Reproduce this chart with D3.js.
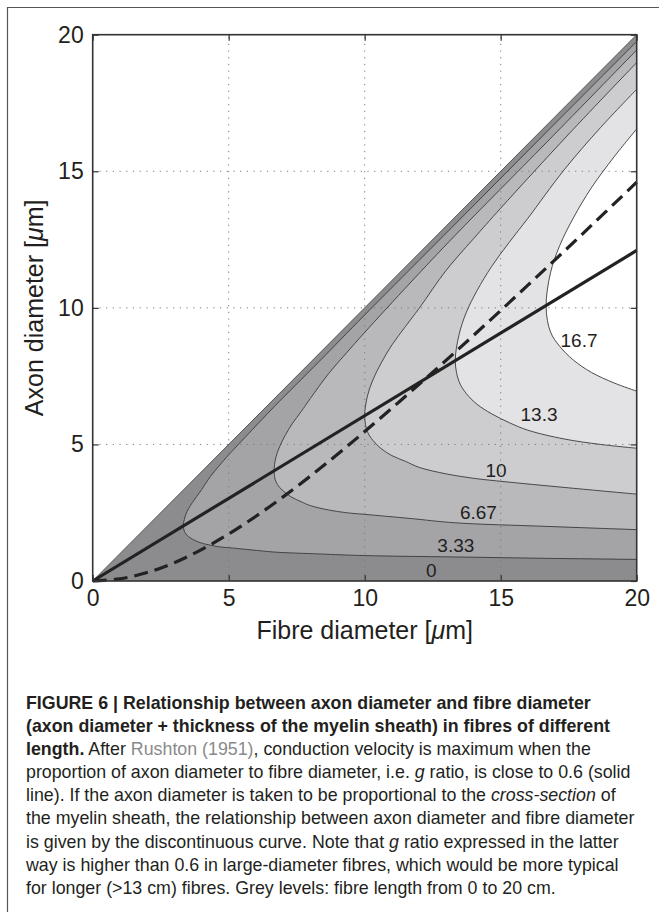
<!DOCTYPE html>
<html>
<head>
<meta charset="utf-8">
<script src="https://cdn.jsdelivr.net/npm/d3@7"></script>
<style>
  body { margin: 0; background: #fff; }
</style>
</head>
<body>
<svg id="fig"></svg>
<script>

const W = 659;
const H = 912;

// axis ticks
const ticks = [0, 5, 10, 15, 20];
const gridTicks = [5, 10, 15];

// region below the diagonal (fibre length 0 band)
const lowerTriangle = [[0, 0], [20, 0], [20, 20]];
const diagonal = [[0, 0], [20, 20]];

// contour lines, [fibre diameter, axon diameter], upper branch -> nose -> lower branch
const contour333 = [[20, 19.75], [16.67, 16.42], [13.33, 13.07], [10, 9.74], [8.33, 8.04], [6.67, 6.38], [5.83, 5.5], [5, 4.62], [4.67, 4.24], [4.33, 3.83], [4, 3.34], [3.83, 3.1], [3.67, 2.88], [3.53, 2.66], [3.43, 2.45], [3.37, 2.26], [3.33, 2.03], [3.37, 1.82], [3.43, 1.72], [3.53, 1.62], [3.67, 1.53], [3.83, 1.45], [4, 1.39], [4.33, 1.31], [4.67, 1.25], [5, 1.22], [5.83, 1.14], [6.67, 1.06], [8.33, 0.99], [10, 0.93], [13.33, 0.88], [16.67, 0.83], [20, 0.79]];
const contour667 = [[20, 19.44], [16.67, 16.04], [13.33, 12.66], [11.67, 10.91], [10, 9.1], [9.33, 8.35], [8.67, 7.59], [8, 6.68], [7.67, 6.21], [7.33, 5.75], [7.07, 5.32], [6.87, 4.91], [6.73, 4.51], [6.67, 4.0], [6.73, 3.65], [6.87, 3.43], [7.07, 3.24], [7.33, 3.06], [7.67, 2.9], [8, 2.76], [8.67, 2.6], [9.33, 2.5], [10, 2.44], [11.67, 2.29], [13.33, 2.13], [16.67, 2.0], [20, 1.88]];
const contour10 = [[20, 18.98], [17.5, 16.36], [15, 13.65], [14, 12.53], [13, 11.38], [12, 9.98], [11.5, 9.32], [11, 8.64], [10.6, 7.97], [10.3, 7.36], [10.1, 6.77], [10, 6.03], [10.1, 5.47], [10.3, 5.15], [10.6, 4.85], [11, 4.59], [11.5, 4.38], [12, 4.16], [13, 3.92], [14, 3.76], [15, 3.65], [17.5, 3.41], [20, 3.18]];
const contour133 = [[20, 18.0], [18.67, 16.6], [17.33, 15.05], [16, 13.28], [15.33, 12.42], [14.67, 11.52], [14.13, 10.63], [13.73, 9.82], [13.47, 9.02], [13.33, 8.03], [13.47, 7.3], [13.73, 6.87], [14.13, 6.47], [14.67, 6.12], [15.33, 5.79], [16, 5.52], [17.33, 5.2], [18.67, 5.0], [20, 4.86]];
const contour167 = [[20, 16.55], [19.17, 15.53], [18.33, 14.39], [17.67, 13.29], [17.17, 12.28], [16.83, 11.28], [16.67, 10.03], [16.83, 9.12], [17.17, 8.59], [17.67, 8.09], [18.33, 7.64], [19.17, 7.25], [20, 6.95]];

// g ratio 0.6 line and the cross-section relation (dashed)
const solidLine = [[0, 0], [20, 12.1]];
const dashedCurve = [[0, 0], [1, 0.08], [2, 0.31], [3, 0.67], [4, 1.15], [5, 1.72], [6, 2.37], [7, 3.08], [8, 3.84], [9, 4.64], [10, 5.47], [12, 7.2], [14, 8.99], [16, 10.83], [18, 12.7], [20, 14.6]];

// band labels (fibre length, cm) and where they sit
const bandLabels = ['0', '3.33', '6.67', '10', '13.3', '16.7'];
const labelAt = [[12.45, 0.4], [13.35, 1.32], [14.18, 2.51], [14.83, 4.05], [16.41, 6.1], [17.88, 8.82]];

const greys = ['#8c8c8e', '#a4a4a7', '#b9b9bc', '#cdcdcf', '#e3e3e5', '#ffffff'];

const caption = [
  [{ t: 'FIGURE 6 | Relationship between axon diameter and fibre diameter', b: true }],
  [{ t: '(axon diameter + thickness of the myelin sheath) in fibres of different', b: true }],
  [{ t: 'length.', b: true }, { t: ' After ' }, { t: 'Rushton (1951)', c: '#8a8a8a' }, { t: ', conduction velocity is maximum when the' }],
  [{ t: 'proportion of axon diameter to fibre diameter, i.e. ' }, { t: 'g', i: true }, { t: ' ratio, is close to 0.6 (solid' }],
  [{ t: 'line). If the axon diameter is taken to be proportional to the ' }, { t: 'cross-section', i: true }, { t: ' of' }],
  [{ t: 'the myelin sheath, the relationship between axon diameter and fibre diameter' }],
  [{ t: 'is given by the discontinuous curve. Note that ' }, { t: 'g', i: true }, { t: ' ratio expressed in the latter' }],
  [{ t: 'way is higher than 0.6 in large-diameter fibres, which would be more typical' }],
  [{ t: 'for longer (>13 cm) fibres. Grey levels: fibre length from 0 to 20 cm.' }]
];

const font = '"Liberation Sans", Arial, Helvetica, sans-serif';
const ink = '#231f20';

const svg = d3.select('#fig').attr('width', W).attr('height', H);

// outer frame (left and top rule)
svg.append('path').attr('d', `M7.5,${H} V7.5 H${W}`).attr('fill', 'none').attr('stroke', '#555').attr('stroke-width', 1.2);

const x = d3.scaleLinear().domain([0, 20]).range([92.7, 636.7]);
const y = d3.scaleLinear().domain([0, 20]).range([581, 34.7]);

const line = d3.line().x(d => x(d[0])).y(d => y(d[1]));
const smooth = d3.line().x(d => x(d[0])).y(d => y(d[1])).curve(d3.curveCatmullRom.alpha(0.5));

// grey bands
const plot = svg.append('g');

plot.append('path').attr('d', line(lowerTriangle) + 'Z').attr('fill', greys[0]);

const contours = [contour333, contour667, contour10, contour133, contour167];

contours.forEach((c, i) => {
    plot.append('path').attr('d', smooth(c) + 'Z').attr('fill', greys[i + 1]);
});

// dotted grid
const grid = svg.append('g').attr('stroke', '#7a7a7a').attr('stroke-width', 1).attr('stroke-dasharray', '1.2,5.5');
grid.selectAll('.gx').data(gridTicks).enter().append('line')
    .attr('x1', d => x(d)).attr('x2', d => x(d)).attr('y1', y(0)).attr('y2', y(20));
grid.selectAll('.gy').data(gridTicks).enter().append('line')
    .attr('y1', d => y(d)).attr('y2', d => y(d)).attr('x1', x(0)).attr('x2', x(20));

// contour lines
contours.forEach(c => {
    svg.append('path').attr('d', smooth(c)).attr('fill', 'none').attr('stroke', '#3a3a3a').attr('stroke-width', 0.9);
});

svg.append('path').attr('d', line(diagonal)).attr('fill', 'none').attr('stroke', '#555').attr('stroke-width', 1);

// g ratio lines
svg.append('path').attr('d', line(solidLine)).attr('fill', 'none').attr('stroke', '#222').attr('stroke-width', 3.2);

svg.append('path').attr('d', smooth(dashedCurve)).attr('fill', 'none').attr('stroke', '#222')
    .attr('stroke-width', 3.2).attr('stroke-dasharray', '14,7');

// band labels
svg.append('g').selectAll('text').data(bandLabels).enter().append('text')
    .attr('x', (d, i) => x(labelAt[i][0]))
    .attr('y', (d, i) => y(labelAt[i][1]))
    .attr('dy', '0.35em')
    .attr('text-anchor', 'middle')
    .attr('font-family', font).attr('font-size', 19).attr('fill', ink)
    .text(d => d);

// axes
const styleAxis = g => {
    g.select('.domain').remove();
    g.selectAll('line').attr('stroke', '#333').attr('stroke-width', 1.2);
    g.selectAll('text').attr('font-family', font).attr('font-size', 23).attr('fill', ink);
};

svg.append('g').attr('transform', `translate(0,${y(0)})`)
    .call(d3.axisBottom(x).tickValues(ticks).tickSize(-6).tickPadding(9).tickFormat(d3.format('d')))
    .call(styleAxis);

svg.append('g').attr('transform', `translate(${x(0)},0)`)
    .call(d3.axisLeft(y).tickValues(ticks).tickSize(-6).tickPadding(9).tickFormat(d3.format('d')))
    .call(styleAxis);

svg.append('g').attr('transform', `translate(0,${y(20)})`)
    .call(d3.axisTop(x).tickValues(ticks).tickSize(-6).tickFormat(''))
    .call(styleAxis);

svg.append('g').attr('transform', `translate(${x(20)},0)`)
    .call(d3.axisRight(y).tickValues(ticks).tickSize(-6).tickFormat(''))
    .call(styleAxis);

svg.append('rect')
    .attr('x', x(0)).attr('y', y(20)).attr('width', x(20) - x(0)).attr('height', y(0) - y(20))
    .attr('fill', 'none').attr('stroke', '#333').attr('stroke-width', 1.6);

// axis titles
svg.append('text').attr('x', (x(0) + x(20)) / 2).attr('y', 639)
    .attr('text-anchor', 'middle').attr('font-family', font).attr('font-size', 25).attr('fill', ink)
    .html('Fibre diameter [<tspan font-style="italic">μ</tspan>m]');

svg.append('text').attr('transform', `translate(43,${(y(0) + y(20)) / 2}) rotate(-90)`)
    .attr('text-anchor', 'middle').attr('font-family', font).attr('font-size', 25).attr('fill', ink)
    .html('Axon diameter [<tspan font-style="italic">μ</tspan>m]');

// caption, set in a slightly condensed face
const capFont = '"Liberation Sans Narrow", "Arial Narrow", "Liberation Sans", Arial, sans-serif';
const cap = svg.append('g').attr('font-family', capFont).attr('font-size', 17.5).attr('fill', ink);

const capLines = cap.selectAll('text').data(caption).enter().append('text')
    .attr('x', 0)
    .attr('y', (d, i) => 709 + i * 23.1);

capLines.selectAll('tspan').data(d => d).enter().append('tspan')
    .attr('font-weight', d => d.b ? 'bold' : null)
    .attr('font-style', d => d.i ? 'italic' : null)
    .attr('fill', d => d.c || null)
    .style('white-space', 'pre')
    .text(d => d.t);

// fit the caption to the column width
const ref = capLines.filter((d, i) => i === 5).node().getComputedTextLength();
cap.attr('transform', `translate(26,0) scale(${609 / ref},1)`);

</script>
</body>
</html>
